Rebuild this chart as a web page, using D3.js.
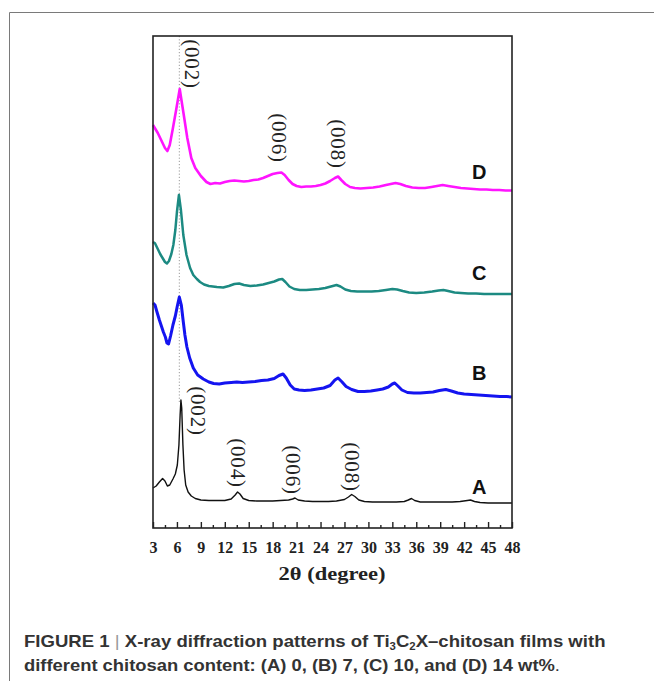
<!DOCTYPE html>
<html>
  <head>
    <meta charset="utf-8">
    <title>XRD patterns</title>
    <script src="https://d3js.org/d3.v7.min.js" charset="utf-8"></script>
    <style>
      body { margin: 0; background: #fff; }
      svg { display: block; }
    </style>
  </head>
  <body>
    <div id="chart"></div>
    <script>
      // 2theta (deg), intensity (a.u., relative to each pattern's own baseline)
      const sampleA = [
        [3.0, 15], [3.4, 17], [3.8, 21], [4.2, 24.5], [4.5, 22], [4.8, 17], [5.1, 18], [5.5, 24],
        [5.8, 29], [6.05, 38], [6.25, 58], [6.4, 88], [6.5, 103], [6.6, 95], [6.75, 58], [6.9, 33],
        [7.1, 18], [7.4, 11], [7.8, 7], [8.3, 4.5], [9.0, 3], [10.0, 2.5], [11.0, 2.5], [12.0, 2.5],
        [12.8, 4], [13.3, 8], [13.6, 11], [13.9, 9], [14.3, 4.5], [15.0, 2.5], [16.0, 2], [17.0, 2],
        [18.0, 2], [19.0, 2.5], [20.0, 3], [20.5, 4], [20.8, 5], [21.2, 3], [22.0, 2], [23.0, 1.5],
        [24.0, 1.5], [25.0, 1.5], [26.0, 2], [27.0, 3.5], [27.5, 6], [27.9, 8.5], [28.3, 6.5], [28.8, 3],
        [29.5, 1.5], [30.5, 1], [31.5, 1], [32.5, 1], [33.5, 1], [34.5, 1.5], [35.0, 3], [35.4, 4.5],
        [35.8, 2.5], [36.5, 1], [37.5, 1], [38.5, 1], [39.5, 1], [40.5, 1], [41.5, 1.5], [42.4, 2.5],
        [42.8, 3], [43.3, 1.5], [44.0, 0.5], [45.0, 0], [46.0, 0], [47.0, 0], [48.0, 0]
      ];
      const sampleB = [
        [3.0, 94], [3.25, 92], [3.5, 85], [3.8, 77], [4.05, 71], [4.3, 65], [4.55, 60], [4.75, 54],
        [4.95, 53], [5.2, 61], [5.5, 72], [5.8, 81], [6.05, 91], [6.3, 100], [6.55, 92], [6.8, 75],
        [7.0, 62], [7.25, 50], [7.6, 39], [8.05, 29], [8.6, 22], [9.3, 18], [10.0, 15], [10.6, 13.5],
        [11.3, 13], [12.0, 14], [12.8, 14.5], [13.5, 15], [14.2, 14.5], [15.0, 15], [15.8, 15.5], [16.6, 16.5],
        [17.4, 17], [18.2, 18.5], [18.8, 21.5], [19.3, 23], [19.7, 19], [20.2, 12], [20.7, 8], [21.3, 7],
        [22.0, 6.5], [22.8, 7], [23.6, 8], [24.4, 9], [25.2, 11.5], [25.8, 17], [26.2, 19], [26.7, 15],
        [27.2, 10.5], [27.9, 7.5], [28.7, 5.5], [29.5, 5.5], [30.3, 6], [31.1, 7], [31.8, 8], [32.5, 10],
        [33.0, 13], [33.3, 14], [33.7, 11], [34.2, 7], [34.9, 4.5], [35.7, 4], [36.5, 4], [37.3, 4.5],
        [38.1, 5], [38.9, 6.5], [39.7, 7.5], [40.4, 6], [41.2, 4], [42.0, 3], [42.9, 2.5], [43.8, 2],
        [44.7, 1.5], [45.6, 1], [46.5, 0.5], [47.3, 0.5], [48.0, 0]
      ];
      const sampleC = [
        [3.0, 52], [3.25, 50.7], [3.6, 45], [3.9, 40], [4.2, 36], [4.5, 32], [4.75, 30.5], [5.0, 33],
        [5.3, 40], [5.55, 49], [5.8, 64], [6.0, 82], [6.25, 99], [6.5, 84], [6.8, 59], [7.2, 39],
        [7.65, 26], [8.05, 19], [8.5, 15], [8.9, 12], [9.4, 9.5], [10.0, 8], [11.0, 7], [11.8, 6.5],
        [12.5, 8], [13.2, 10], [13.8, 10.5], [14.4, 9], [15.2, 8], [16.0, 8.5], [16.8, 9.5], [17.5, 11],
        [18.2, 12.5], [18.8, 14.5], [19.2, 15], [19.6, 12], [20.1, 7.5], [20.7, 5], [21.4, 4], [22.2, 4],
        [23.0, 4.5], [23.8, 5], [24.6, 6], [25.3, 7.5], [26.0, 9], [26.5, 7.5], [27.1, 4.5], [27.8, 3],
        [28.6, 2.5], [29.5, 2.5], [30.4, 2.5], [31.3, 3], [32.2, 4], [33.0, 5], [33.6, 4.5], [34.3, 3],
        [35.1, 1.5], [36.0, 1], [37.0, 1.5], [38.0, 2.5], [38.8, 3.5], [39.4, 4], [40.0, 3], [40.8, 1.5],
        [41.6, 1], [42.5, 0.5], [43.5, 0.5], [44.5, 0], [45.5, 0], [46.5, 0], [48.0, 0]
      ];
      const sampleD = [
        [3.0, 66], [3.3, 62], [3.6, 58], [3.9, 53], [4.2, 48], [4.5, 43], [4.8, 40], [5.1, 46],
        [5.5, 63], [5.9, 81], [6.35, 102], [6.8, 79], [7.3, 53], [7.8, 33], [8.3, 23], [9.0, 15],
        [9.7, 9], [10.2, 7], [10.8, 8], [11.4, 7.5], [12.0, 9], [12.6, 10], [13.2, 10.5], [13.8, 10],
        [14.4, 9.5], [15.0, 10], [15.6, 11], [16.2, 11.5], [16.8, 13], [17.4, 15], [18.0, 17], [18.6, 18],
        [19.1, 18.5], [19.5, 16], [20.0, 11], [20.5, 7], [21.0, 5], [21.6, 4], [22.2, 4.5], [22.8, 4.5],
        [23.4, 5], [24.0, 6], [24.6, 7.5], [25.2, 10], [25.8, 13], [26.2, 14.5], [26.6, 11], [27.1, 7],
        [27.7, 4], [28.3, 3], [29.0, 2.5], [29.8, 3], [30.6, 3.5], [31.4, 4.5], [32.2, 6], [32.8, 7],
        [33.4, 8], [34.0, 7], [34.7, 5], [35.5, 3.5], [36.3, 3], [37.1, 3], [37.9, 4], [38.6, 5],
        [39.3, 6], [40.0, 5], [40.8, 4], [41.6, 3], [42.4, 2.5], [43.2, 2], [44.0, 1.5], [44.8, 1.5],
        [45.6, 1], [46.4, 1], [47.2, 0.5], [48.0, 0.5]
      ];

      const sampleNames = ["A", "B", "C", "D"];
      const sampleOffsets = [25, 131, 234, 337];
      const sampleColors = ["#111111", "#1414f0", "#1c8a82", "#ff14ff"];
      const sampleWidths = [1.4, 3.0, 2.5, 2.6];
      const sampleLabelPos = [[43.9, 41], [43.9, 155], [43.9, 255], [43.9, 356]];

      const majorTicks = [3, 6, 9, 12, 15, 18, 21, 24, 27, 30, 33, 36, 39, 42, 45, 48];
      const minorTicks = [4.5, 7.5, 10.5, 13.5, 16.5, 19.5, 22.5, 25.5, 28.5, 31.5, 34.5, 37.5, 40.5, 43.5, 46.5];

      // reflection labels: text, 2theta, a.u. (centre)
      const peakLabels = [
        ["(002)", 7.85, 464], ["(006)", 18.8, 390], ["(008)", 26.1, 384],
        ["(002)", 8.6, 117], ["(004)", 13.65, 65], ["(006)", 20.55, 58], ["(008)", 27.9, 61]
      ];
      const refLine002 = 6.3;

      const W = 654, H = 681;
      const margin = { top: 36, right: 142, bottom: 153, left: 153 };

      const svg = d3.select("#chart").append("svg")
        .attr("width", W).attr("height", H);

      // outer figure frame
      svg.append("path")
        .attr("d", "M9.5," + H + "V12.5H" + W)
        .attr("fill", "none").attr("stroke", "#7a7a7a").attr("stroke-width", 1);

      const x = d3.scaleLinear().domain([3, 48]).range([margin.left, W - margin.right]);
      const y = d3.scaleLinear().domain([0, 492]).range([H - margin.bottom, margin.top]);

      // dotted reference line through (002)
      svg.append("line")
        .attr("x1", x(refLine002)).attr("x2", x(refLine002))
        .attr("y1", y(492)).attr("y2", y(sampleOffsets[0] + 100))
        .attr("stroke", "#9a9a9a").attr("stroke-width", 1)
        .attr("stroke-dasharray", "1.2,2");

      const samples = [sampleA, sampleB, sampleC, sampleD];
      samples.forEach((s, i) => {
        const line = d3.line()
          .x(d => x(d[0]))
          .y(d => y(d[1] + sampleOffsets[i]));
        svg.append("path")
          .datum(s)
          .attr("d", line)
          .attr("fill", "none")
          .attr("stroke", sampleColors[i])
          .attr("stroke-width", sampleWidths[i])
          .attr("stroke-linejoin", "round");
      });

      // plot box
      svg.append("rect")
        .attr("x", x(3)).attr("y", y(492))
        .attr("width", x(48) - x(3)).attr("height", y(0) - y(492))
        .attr("fill", "none").attr("stroke", "#222").attr("stroke-width", 1.6);

      const axisY = y(0);
      const serif = "'Liberation Serif', 'Times New Roman', serif";

      const majorAxis = svg.append("g")
        .attr("transform", "translate(0," + axisY + ")")
        .call(d3.axisBottom(x).tickValues(majorTicks).tickSizeInner(-6).tickSizeOuter(0)
          .tickPadding(14).tickFormat(d3.format("d")));
      majorAxis.select(".domain").remove();
      majorAxis.selectAll("line").attr("stroke", "#222").attr("stroke-width", 1.4);
      majorAxis.selectAll("text")
        .attr("font-family", serif).attr("font-weight", "bold")
        .attr("font-size", "16px").attr("fill", "#222");

      const minorAxis = svg.append("g")
        .attr("transform", "translate(0," + axisY + ")")
        .call(d3.axisBottom(x).tickValues(minorTicks).tickSizeInner(-3).tickSizeOuter(0).tickFormat(""));
      minorAxis.select(".domain").remove();
      minorAxis.selectAll("line").attr("stroke", "#222").attr("stroke-width", 1.4);

      svg.append("text")
        .attr("x", 332).attr("y", 580)
        .attr("text-anchor", "middle")
        .attr("font-family", serif).attr("font-weight", "bold")
        .attr("font-size", "19px").attr("fill", "#222")
        .attr("textLength", 107).attr("lengthAdjust", "spacingAndGlyphs")
        .text("2θ (degree)");

      // reflection labels, rotated
      svg.selectAll(".peak")
        .data(peakLabels)
        .enter().append("text")
        .attr("class", "peak")
        .attr("transform", d => "translate(" + x(d[1]) + "," + y(d[2]) + ") rotate(90)")
        .attr("text-anchor", "middle")
        .attr("dy", "0.32em")
        .attr("font-family", serif)
        .attr("font-size", "21px")
        .attr("letter-spacing", "0.8px")
        .attr("fill", "#222")
        .text(d => d[0]);

      // sample letters
      svg.selectAll(".sample")
        .data(sampleNames)
        .enter().append("text")
        .attr("class", "sample")
        .attr("x", (d, i) => x(sampleLabelPos[i][0]))
        .attr("y", (d, i) => y(sampleLabelPos[i][1]))
        .attr("dy", "0.36em")
        .attr("text-anchor", "middle")
        .attr("font-family", "'Liberation Sans', Arial, sans-serif")
        .attr("font-weight", "bold").attr("font-size", "20px")
        .attr("fill", "#111")
        .text(d => d);

      // caption
      const sans = "'Liberation Sans', Arial, Helvetica, sans-serif";
      const cap1 = svg.append("text")
        .attr("font-family", sans).attr("font-weight", "bold")
        .attr("font-size", "16.3px").attr("fill", "#333");
      cap1.append("tspan").text("FIGURE 1 ");
      cap1.append("tspan").attr("font-weight", "normal").attr("fill", "#999").text("|");
      cap1.append("tspan").text(" X-ray diffraction patterns of Ti");
      cap1.append("tspan").attr("font-size", "10px").attr("dy", 3).text("3");
      cap1.append("tspan").attr("dy", -3).text("C");
      cap1.append("tspan").attr("font-size", "10px").attr("dy", 3).text("2");
      cap1.append("tspan").attr("dy", -3).text("X–chitosan films with");

      const cap2 = svg.append("text")
        .attr("font-family", sans).attr("font-weight", "bold")
        .attr("font-size", "16.3px").attr("fill", "#333");
      cap2.append("tspan").text("different chitosan content: (A) 0, (B) 7, (C) 10, and (D) 14 wt%");
      cap2.append("tspan").attr("font-weight", "normal").text(".");

      const fit = (sel, x0, base, target) => {
        const w = sel.node().getBBox().width;
        sel.attr("transform", "translate(" + x0 + "," + base + ") scale(" + (target / w) + ",1)");
      };
      fit(cap1, 24, 647, 581);
      fit(cap2, 24, 671, 536);
    </script>
  </body>
</html>
